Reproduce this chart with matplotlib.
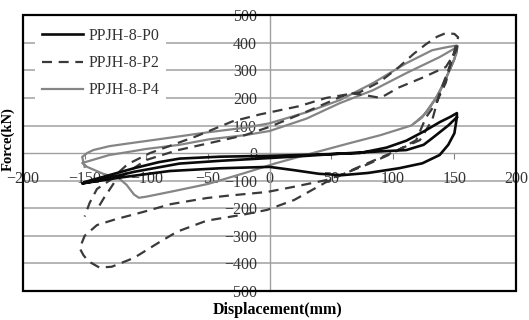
import numpy as np
import matplotlib.pyplot as plt
from matplotlib.patches import Rectangle

# P0 (black, solid) - displacement (mm), force (kN)
p0_x = [-150, -130, -110, -90, -73, -40, 0, 40, 73, 95, 111, 125, 138, 147, 152,
        152, 150, 145, 138, 124, 105, 80, 59, 40, 20, 0, -40, -81, -120, -152,
        -140, -110, -73, -40, 0, 30, 57, 85, 111, 125, 132, 145, 152]
p0_y = [-105, -80, -55, -33, -20, -13, -10, -5, 0, 20, 45, 78, 112, 132, 145,
        130, 72, 30, -7, -37, -55, -72, -80, -75, -62, -50, -55, -65, -88, -110,
        -100, -68, -38, -28, -18, -10, -2, 5, 11, 30, 54, 100, 130]

# P2 (dashed)
p2_x = [-138, -134, -130, -125, -112, -100, -75, -50, -20, 0, 30, 65, 80, 90, 105, 125, 143, 152, 153,
        148, 143, 135, 127, 119, 100, 80, 62, 46, 20, -2, -35, -51, -80, -103, -125, -140, -150, -154,
        -151, -147, -138, -128, -110, -89, -75, -51, -20, -2, 20, 46, 70, 95, 122, 132, 138, 148, 153,
        150, 143, 136, 127, 117, 105, 90, 73, 46, 24, -8, -30, -60, -97, -115, -130, -140, -146, -150]
p2_y = [-190, -160, -134, -100, -60, -25, 10, 35, 65, 95, 150, 218, 208, 200, 238, 275, 312, 375, 400,
        340, 255, 180, 130, 47, 0, -40, -72, -98, -122, -141, -155, -163, -185, -214, -240, -261, -300, -345,
        -370, -392, -415, -412, -380, -322, -285, -245, -222, -206, -170, -105, -55, -7, 47, 120, 217, 337, 420,
        432, 435, 422, 395, 360, 312, 260, 220, 200, 170, 140, 115, 60, 0, -40, -100, -130, -181, -230]

# P4 (gray, solid)
p4_x = [-150, -152, -148, -143, -130, -116, -90, -49, -20, 0, 30, 57, 84, 111, 132, 145, 152,
        152, 148, 142, 135, 124, 115, 90, 65, 35, 5, -20, -50, -80, -100, -106, -110, -116, -122, -135, -148,
        -152, -130, -116, -100, -73, -49, -20, 0, 30, 57, 84, 111, 138, 152,
        150, 145, 138, 128, 118]
p4_y = [-50, -14, 0, 11, 25, 34, 50, 76, 92, 108, 148, 192, 254, 326, 373, 385, 390,
        365, 320, 260, 200, 130, 100, 65, 36, 0, -37, -72, -112, -140, -158, -162, -150, -115, -92, -75, -50,
        -36, -7, 3, 15, 30, 50, 65, 80, 125, 181, 228, 290, 348, 384,
        340, 290, 220, 150, 110]

labels = ['PPJH-8-P0', 'PPJH-8-P2', 'PPJH-8-P4']
x_ticks = [-200, -150, -100, -50, 0, 50, 100, 150, 200]
y_ticks = [-500, -400, -300, -200, -100, 0, 100, 200, 300, 400, 500]

plt.rcParams['font.family'] = ['Liberation Serif', 'DejaVu Serif']

fig = plt.figure(figsize=(5.29, 3.2), dpi=100)
ax = fig.add_axes([0.0435, 0.0906, 0.932, 0.862])

ax.set_xlim(-200, 200)
ax.set_ylim(-500, 500)

# horizontal grid
for yv in y_ticks[1:-1]:
    if yv != 0:
        ax.axhline(yv, color='#a8a8a8', lw=1.2, zorder=1)

ax.plot(p4_x, p4_y, color='#858585', lw=1.6, label=labels[2], zorder=3)
ax.plot(p2_x, p2_y, color='#3a3a3a', lw=1.6, ls=(0, (4.5, 3)), label=labels[1], zorder=4)
ax.plot(p0_x, p0_y, color='#0a0a0a', lw=1.9, label=labels[0], zorder=5)

# axes crossing at zero
ax.spines['left'].set_position(('data', 0))
ax.spines['bottom'].set_position(('data', 0))
ax.spines['left'].set_color('#a0a0a0')
ax.spines['bottom'].set_color('#a0a0a0')
ax.spines['left'].set_linewidth(1.0)
ax.spines['bottom'].set_linewidth(1.0)
ax.spines['right'].set_visible(False)
ax.spines['top'].set_visible(False)
ax.add_patch(Rectangle((0, 0), 1, 1, transform=ax.transAxes, fill=False,
                       edgecolor='black', lw=1.6, zorder=6, clip_on=False))

ax.set_xticks(x_ticks)
ax.set_yticks(y_ticks)
ax.tick_params(axis='x', direction='out', length=4, width=0.8, color='#808080',
               pad=9, labelsize=11.5, labelcolor='#333333')
ax.tick_params(axis='y', length=0, pad=9, labelsize=11.5, labelcolor='#333333')

h, l = ax.get_legend_handles_labels()
order = [2, 1, 0]
leg = ax.legend([h[i] for i in order], [l[i] for i in order], loc='upper left',
                fontsize=11.5, frameon=True, facecolor='white', edgecolor='none',
                framealpha=1, fancybox=False, handlelength=2.6, handletextpad=0.35,
                labelspacing=0.7, borderaxespad=0.4, borderpad=0.4,
                bbox_to_anchor=(0.012, 1.0))
for t in leg.get_texts():
    t.set_color('#333333')

fig.text(0.015, 0.565, 'Force(kN)', rotation=90, ha='center', va='center',
         fontsize=10.5, fontweight='bold')
fig.text(0.525, 0.031, 'Displacement(mm)', ha='center', va='center',
         fontsize=11.5, fontweight='bold')

fig.savefig('out.png', dpi=100)
